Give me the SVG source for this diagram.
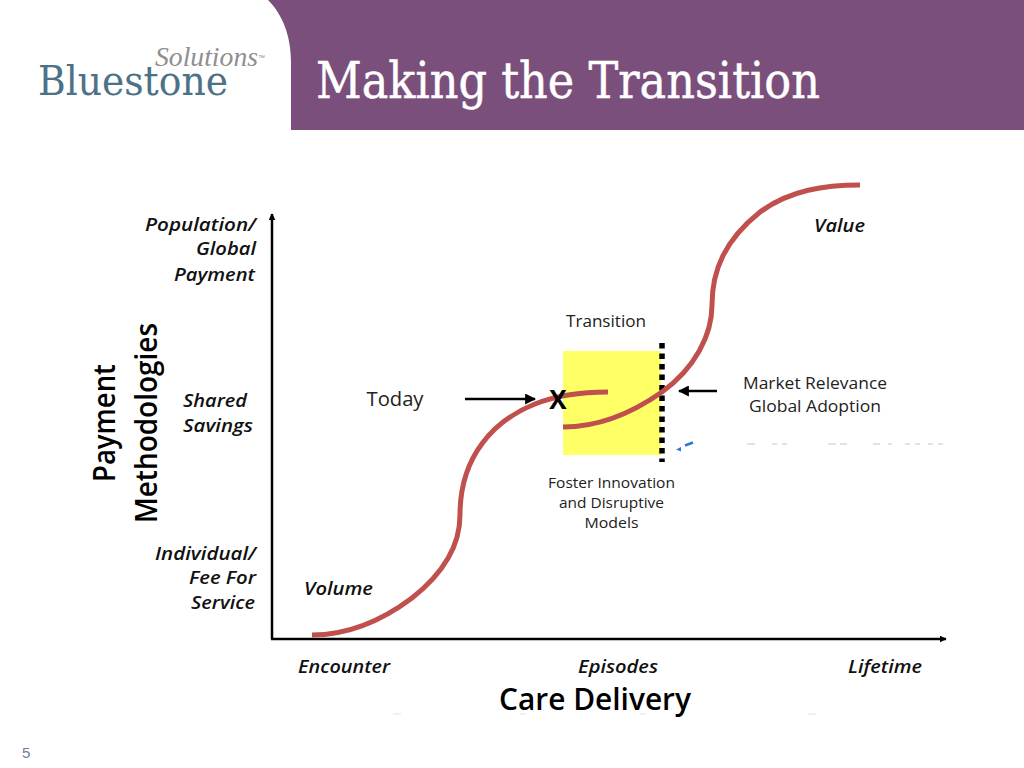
<svg xmlns="http://www.w3.org/2000/svg" width="1024" height="768" viewBox="0 0 1024 768">
<style>
text{font-family:"Open Sans","Noto Sans",sans-serif;fill:#111}
.i{font-style:italic;font-weight:600;font-size:18px}
.r{font-size:16px;fill:#222}
.b{font-weight:600;font-size:30px;fill:#000}
.curve{fill:none;stroke:#c0504d;stroke-width:5}
.ax{fill:none;stroke:#000;stroke-width:2.5}
</style>
<defs>
<marker id="ah" viewBox="0 0 10 10" refX="9" refY="5" markerWidth="7" markerHeight="7" markerUnits="userSpaceOnUse" orient="auto"><path d="M0 0L10 5L0 10Z" fill="#000"/></marker>
<marker id="ah2" viewBox="0 0 10 10" refX="9" refY="5" markerWidth="11" markerHeight="11" markerUnits="userSpaceOnUse" orient="auto"><path d="M0 0L10 5L0 10Z" fill="#000"/></marker>
</defs>
<rect width="1024" height="768" fill="#fff"/>
<g id="header">
<path d="M268 0H1024V130H291V62C291 35 282 14 268 0Z" fill="#7a4f7b"/>
<text x="316" y="98" font-size="50" textLength="504" lengthAdjust="spacingAndGlyphs" style="font-family:'DejaVu Serif','Liberation Serif',serif;fill:#fff;stroke:#fff;stroke-width:.5">Making the Transition</text>
</g>
<g id="logo">
<text x="155" y="66" font-size="27" textLength="103" lengthAdjust="spacingAndGlyphs" style="font-family:'Liberation Serif',serif;font-style:italic;fill:#8f8f8f">Solutions</text>
<text x="258" y="60" font-size="7" style="font-family:'Liberation Sans',sans-serif;fill:#8f8f8f">™</text>
<text x="38" y="95" font-size="41" textLength="190" lengthAdjust="spacingAndGlyphs" style="font-family:'DejaVu Serif','Liberation Serif',serif;fill:#4d7287">Bluestone</text>
</g>
<g id="transition-box">
<rect x="563" y="351" width="98" height="104" fill="#ffff66"/>
<line x1="662" y1="343" x2="662" y2="462" stroke="#000" stroke-width="5.500" stroke-dasharray="5.500 5"/>
</g>
<g id="connectors">
<path class="ax" d="M272 639V214" marker-end="url(#ah)"/>
<path class="ax" d="M271 639H946" marker-end="url(#ah)"/>
<path class="curve" d="M312 635C345 635 380 622 412 598C445 572 460 545 460 515C460 455 495 420 535 404C560 394 585 392 608 392"/>
<path class="curve" d="M563 427C600 427 635 411 662 392C695 368 712 335 712 305C712 270 725 240 760 212C790 190 825 185 860 185"/>
<path d="M465 399H535" fill="none" stroke="#000" stroke-width="2.500" marker-end="url(#ah2)"/>
<path d="M717 391H679" fill="none" stroke="#000" stroke-width="2.500" marker-end="url(#ah2)"/>
</g>
<g id="marks">
<path d="M676 449.500L681 447V451.500Z" fill="#2a78d6"/>
<path d="M685 445.500L693 442.500" stroke="#2a78d6" stroke-width="2.500" fill="none"/>
<path d="M747 444h8M772 444h5M782 444h5M828 444h8M840 444h7M873 444h7M888 444h4M905 444h5M915 444h5M928 444h5M938 444h5" stroke="#c4c4c4" stroke-width="1" fill="none"/>
<path d="M393 714h8M808 714h8M520 714h6M640 714h6" stroke="#e2e2e2" stroke-width="1" fill="none"/>
</g>
<g id="y-labels">
<text class="i" x="256" y="231" text-anchor="end" textLength="111" lengthAdjust="spacingAndGlyphs">Population/</text>
<text class="i" x="256" y="255" text-anchor="end" textLength="60" lengthAdjust="spacingAndGlyphs">Global</text>
<text class="i" x="255" y="281" text-anchor="end" textLength="81" lengthAdjust="spacingAndGlyphs">Payment</text>
<text class="i" x="183" y="407" textLength="64" lengthAdjust="spacingAndGlyphs">Shared</text>
<text class="i" x="183" y="432" textLength="70" lengthAdjust="spacingAndGlyphs">Savings</text>
<text class="i" x="256" y="560" text-anchor="end" textLength="101" lengthAdjust="spacingAndGlyphs">Individual/</text>
<text class="i" x="256" y="584" text-anchor="end" textLength="67" lengthAdjust="spacingAndGlyphs">Fee For</text>
<text class="i" x="255" y="609" text-anchor="end" textLength="64" lengthAdjust="spacingAndGlyphs">Service</text>
</g>
<g id="y-title">
<text class="b" transform="translate(115 482) rotate(-90)" textLength="118" lengthAdjust="spacingAndGlyphs">Payment</text>
<text class="b" transform="translate(157 523) rotate(-90)" textLength="200" lengthAdjust="spacingAndGlyphs">Methodologies</text>
</g>
<g id="x-labels">
<text class="i" x="298" y="673" textLength="92" lengthAdjust="spacingAndGlyphs">Encounter</text>
<text class="i" x="578" y="673" textLength="80" lengthAdjust="spacingAndGlyphs">Episodes</text>
<text class="i" x="848" y="673" textLength="74" lengthAdjust="spacingAndGlyphs">Lifetime</text>
<text class="b" x="499" y="710" textLength="192" lengthAdjust="spacingAndGlyphs">Care Delivery</text>
</g>
<g id="annotations">
<text class="i" x="304" y="595" textLength="69" lengthAdjust="spacingAndGlyphs">Volume</text>
<text class="i" x="814" y="232" textLength="51" lengthAdjust="spacingAndGlyphs">Value</text>
<text class="r" x="606" y="327" text-anchor="middle" textLength="80" lengthAdjust="spacingAndGlyphs">Transition</text>
<text class="r" x="395" y="406" text-anchor="middle" style="font-size:20px" textLength="57" lengthAdjust="spacingAndGlyphs">Today</text>
<text x="558" y="409" text-anchor="middle" style="font-size:26px;font-weight:700;fill:#000">X</text>
<text class="r" x="815" y="389" text-anchor="middle" textLength="144" lengthAdjust="spacingAndGlyphs">Market Relevance</text>
<text class="r" x="815" y="412" text-anchor="middle" textLength="132" lengthAdjust="spacingAndGlyphs">Global Adoption</text>
<text class="r" x="611.500" y="488" text-anchor="middle" style="font-size:15px" textLength="127" lengthAdjust="spacingAndGlyphs">Foster Innovation</text>
<text class="r" x="611.500" y="508" text-anchor="middle" style="font-size:15px" textLength="105" lengthAdjust="spacingAndGlyphs">and Disruptive</text>
<text class="r" x="611.500" y="528" text-anchor="middle" style="font-size:15px" textLength="54" lengthAdjust="spacingAndGlyphs">Models</text>
</g>
<g id="page-number"><text x="22" y="758" style="font-family:'Liberation Sans',sans-serif;font-size:15px;fill:#6f7f96">5</text></g>
</svg>
